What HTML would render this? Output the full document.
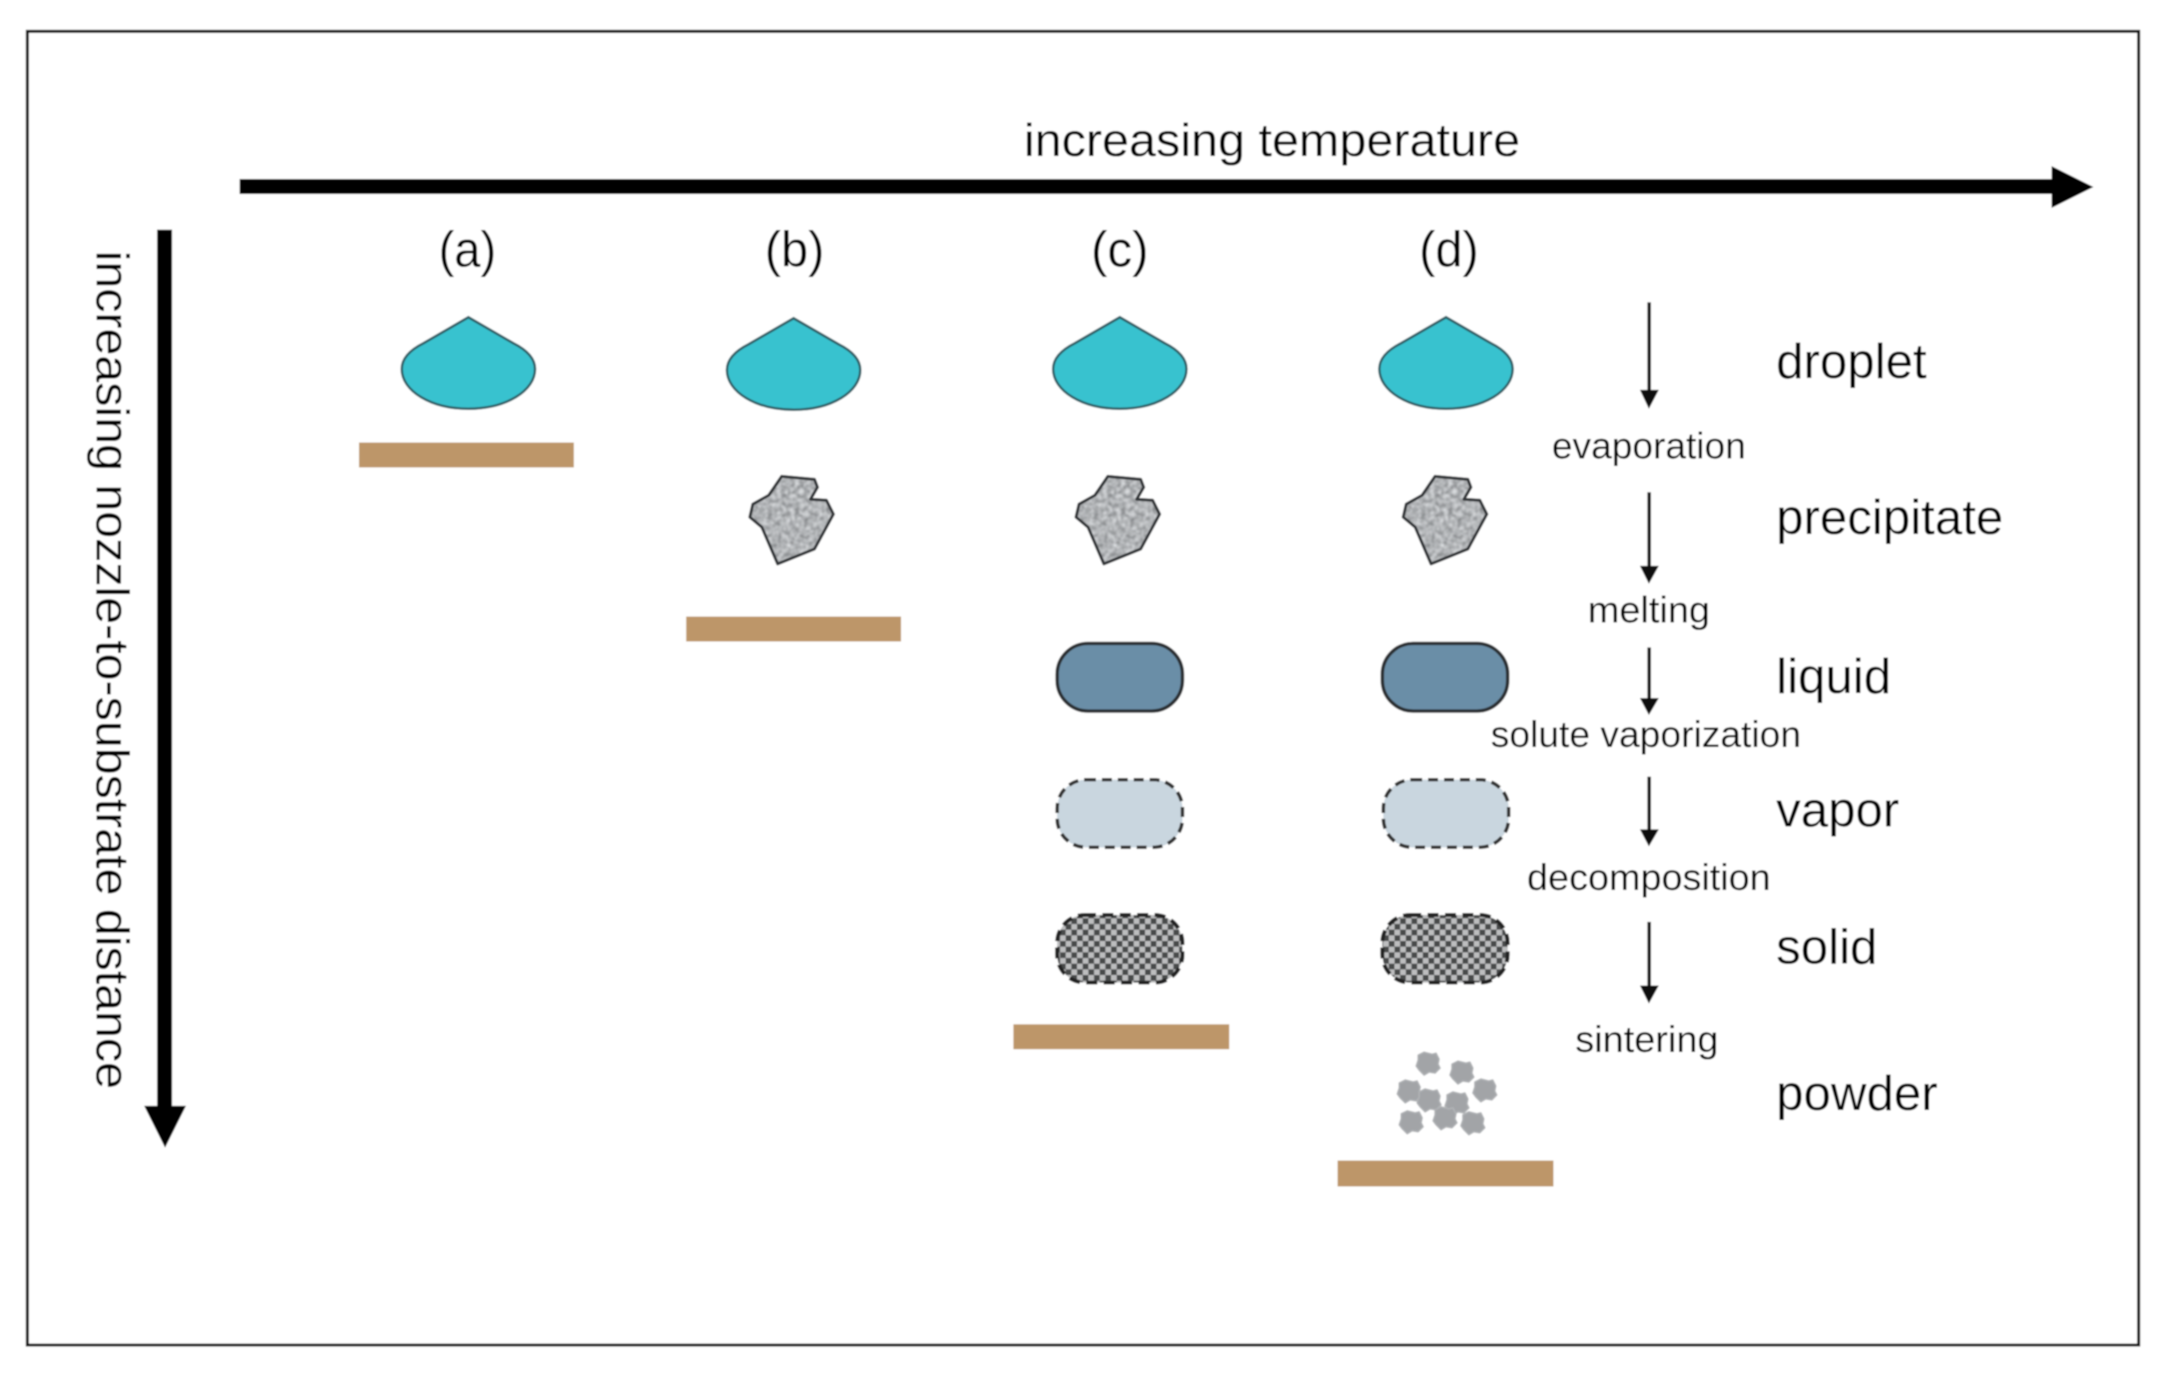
<!DOCTYPE html>
<html>
<head>
<meta charset="utf-8">
<style>
html,body{margin:0;padding:0;background:#fff;width:2174px;height:1379px;overflow:hidden}
svg{display:block}
text{font-family:"Liberation Sans",sans-serif;fill:#000}
</style>
</head>
<body>
<svg width="2174" height="1379" viewBox="0 0 2174 1379" xmlns="http://www.w3.org/2000/svg">
<defs>
<filter id="soft" x="0" y="0" width="100%" height="100%"><feGaussianBlur stdDeviation="0.7"/></filter>
<filter id="grain" x="-10%" y="-10%" width="120%" height="120%" color-interpolation-filters="sRGB">
<feTurbulence type="fractalNoise" baseFrequency="0.22" numOctaves="2" seed="4" result="n"/>
<feColorMatrix in="n" type="matrix" values="0.55 0 0 0 0.42  0.55 0 0 0 0.43  0.55 0 0 0 0.44  0 0 0 0 1" result="g"/>
<feGaussianBlur in="g" stdDeviation="0.8" result="b"/>
<feComposite in="b" in2="SourceGraphic" operator="in"/>
</filter>
<pattern id="check" width="11.4" height="11.4" patternUnits="userSpaceOnUse">
<rect width="11.4" height="11.4" fill="#47484a"/>
<rect x="0" y="0" width="5.7" height="5.7" fill="#bdbebf"/>
<rect x="5.7" y="5.7" width="5.7" height="5.7" fill="#bdbebf"/>
</pattern>
<path id="drop" d="M0,0 L-45,26 C-59,33 -67,42 -67,52 C-67,74 -38,92 0,92 C38,92 67,74 67,52 C67,42 59,33 45,26 Z" fill="#38c2cf" stroke="#2f5f66" stroke-width="2.5"/>
<polygon id="precfill" points="0,0 33,3 36,11 29,23 45,24 52,38 33,73 -4,88 -20,51 -32,41 -29,28 -13,19" fill="#000" filter="url(#grain)"/>
<polygon id="precline" points="0,0 33,3 36,11 29,23 45,24 52,38 33,73 -4,88 -20,51 -32,41 -29,28 -13,19" fill="none" stroke="#333538" stroke-width="3" stroke-linejoin="round"/>
<polygon id="blob" points="-4,-11 4,-9 8,-10 11,-4 10,1 12,5 7,10 1,9 -4,12 -9,7 -12,3 -10,-3 -10,-8" fill="#a2a4a7" stroke="#b0b2b5" stroke-width="1.5" stroke-linejoin="round"/>
</defs>
<g filter="url(#soft)">
<rect x="0" y="0" width="2174" height="1379" fill="#fff"/>
<g transform="scale(0.9945)">
<rect x="27.5" y="31.5" width="2123" height="1321" fill="#fff" stroke="#111" stroke-width="3"/>

<!-- top axis -->
<rect x="241" y="180" width="1831" height="15" fill="#000"/>
<polygon points="2063,167 2105,188 2063,209" fill="#000"/>
<text x="1279" y="157" font-size="47" text-anchor="middle" textLength="499" lengthAdjust="spacingAndGlyphs">increasing temperature</text>

<!-- left axis -->
<rect x="158" y="231" width="15" height="890" fill="#000"/>
<polygon points="145,1112 187,1112 166,1154" fill="#000"/>
<text transform="translate(97,252) rotate(90)" font-size="47" textLength="843" lengthAdjust="spacingAndGlyphs">increasing nozzle-to-substrate distance</text>

<!-- column letters -->
<g font-size="50">
<text x="470" y="268" text-anchor="middle" textLength="58" lengthAdjust="spacingAndGlyphs">(a)</text>
<text x="799" y="268" text-anchor="middle" textLength="60" lengthAdjust="spacingAndGlyphs">(b)</text>
<text x="1126" y="268" text-anchor="middle" textLength="58" lengthAdjust="spacingAndGlyphs">(c)</text>
<text x="1457" y="268" text-anchor="middle" textLength="60" lengthAdjust="spacingAndGlyphs">(d)</text>
</g>

<!-- droplets -->
<use href="#drop" x="471" y="319"/>
<use href="#drop" x="798" y="320"/>
<use href="#drop" x="1126" y="319"/>
<use href="#drop" x="1454" y="319"/>

<!-- substrates -->
<rect x="361" y="445" width="216" height="25" fill="#bd9669"/>
<rect x="690" y="620" width="216" height="25" fill="#bd9669"/>
<rect x="1019" y="1030" width="217" height="25" fill="#bd9669"/>
<rect x="1345" y="1167" width="217" height="26" fill="#bd9669"/>

<!-- precipitates -->
<use href="#precfill" x="786" y="479"/><use href="#precline" x="786" y="479"/>
<use href="#precfill" x="1114" y="479"/><use href="#precline" x="1114" y="479"/>
<use href="#precfill" x="1443" y="479"/><use href="#precline" x="1443" y="479"/>

<!-- liquid -->
<rect x="1063" y="647" width="126" height="68" rx="31" fill="#6a8ea7" stroke="#2b2f33" stroke-width="3.5"/>
<rect x="1390" y="647" width="126" height="68" rx="31" fill="#6a8ea7" stroke="#2b2f33" stroke-width="3.5"/>

<!-- vapor -->
<rect x="1063" y="784" width="126" height="68" rx="29" fill="#c9d6df" stroke="#333" stroke-width="3.5" stroke-dasharray="10 6"/>
<rect x="1391" y="784" width="126" height="68" rx="29" fill="#c9d6df" stroke="#333" stroke-width="3.5" stroke-dasharray="10 6"/>

<!-- solid -->
<rect x="1063" y="920" width="126" height="68" rx="28" fill="url(#check)" stroke="#222" stroke-width="4" stroke-dasharray="11 6.5"/>
<rect x="1390" y="920" width="126" height="68" rx="28" fill="url(#check)" stroke="#222" stroke-width="4" stroke-dasharray="11 6.5"/>

<!-- powder -->
<use href="#blob" x="1436" y="1069"/>
<use href="#blob" x="1470" y="1078"/>
<use href="#blob" x="1417" y="1097"/>
<use href="#blob" x="1493" y="1096"/>
<use href="#blob" x="1437" y="1106"/>
<use href="#blob" x="1465" y="1109"/>
<use href="#blob" x="1419" y="1128"/>
<use href="#blob" x="1453" y="1124"/>
<use href="#blob" x="1481" y="1129"/>

<!-- process arrows -->
<g fill="#111">
<rect x="1656.5" y="304" width="3.5" height="95"/><polygon points="1649,392 1668,392 1658,411"/>
<rect x="1656.5" y="495" width="3.5" height="80"/><polygon points="1649,569 1668,569 1658,587"/>
<rect x="1656.5" y="651" width="3.5" height="56"/><polygon points="1649,702 1668,702 1658,719"/>
<rect x="1656.5" y="781" width="3.5" height="58"/><polygon points="1649,834 1668,834 1658,851"/>
<rect x="1656.5" y="927" width="3.5" height="70"/><polygon points="1649,991 1668,991 1658,1009"/>
</g>

<!-- process labels -->
<g font-size="37.3" text-anchor="middle">
<text x="1658" y="461" textLength="195" lengthAdjust="spacingAndGlyphs">evaporation</text>
<text x="1658" y="626" textLength="123" lengthAdjust="spacingAndGlyphs">melting</text>
<text x="1655" y="751" textLength="312" lengthAdjust="spacingAndGlyphs">solute vaporization</text>
<text x="1658" y="895" textLength="245" lengthAdjust="spacingAndGlyphs">decomposition</text>
<text x="1656" y="1058" textLength="144" lengthAdjust="spacingAndGlyphs">sintering</text>
</g>

<!-- state labels -->
<g font-size="49.5">
<text x="1786" y="380">droplet</text>
<text x="1786" y="537">precipitate</text>
<text x="1786" y="697">liquid</text>
<text x="1786" y="831">vapor</text>
<text x="1786" y="969">solid</text>
<text x="1786" y="1116">powder</text>
</g>
</g>
</g>
</svg>
</body>
</html>
